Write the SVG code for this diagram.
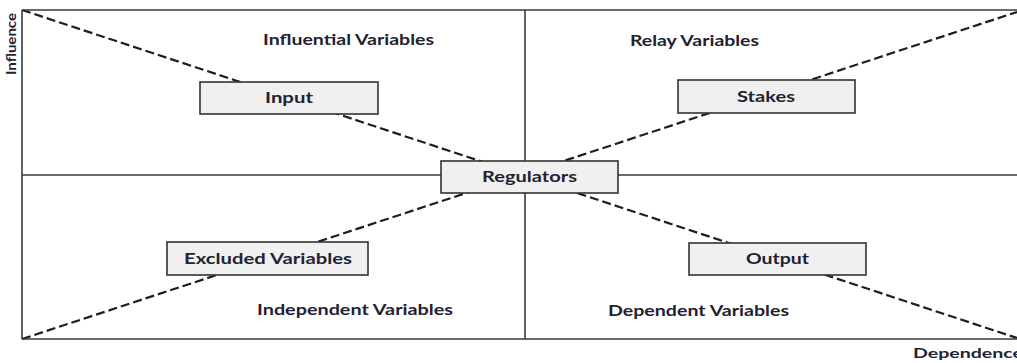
<svg xmlns="http://www.w3.org/2000/svg" width="1017" height="363" viewBox="0 0 1017 363">
<style>
.frame{stroke:#3a3a3a;stroke-width:1.6;fill:none}
.dash{stroke:#1e1e1e;stroke-width:2.2;stroke-dasharray:9 4;fill:none}
.box{fill:#f0f0f0;stroke:#333;stroke-width:1.6}
.lbl{font-family:Lato,"Open Sans","Liberation Sans",sans-serif;font-weight:bold;font-size:15px;fill:#1f2230;text-anchor:middle}
.ax{font-family:Lato,"Open Sans","Liberation Sans",sans-serif;font-weight:bold;font-size:13px;fill:#1f2230}
</style>
<rect width="1017" height="363" fill="#fff"/>
<g id="connectors">
<line class="dash" x1="22" y1="10" x2="1017" y2="338"/>
<line class="dash" x1="22" y1="339" x2="1017" y2="12"/>
</g>
<g id="axes">
<line class="frame" x1="22" y1="10" x2="1017" y2="10"/>
<line class="frame" x1="22" y1="10" x2="22" y2="339"/>
<line class="frame" x1="22" y1="339" x2="1017" y2="339"/>
<line class="frame" x1="525" y1="10" x2="525" y2="339"/>
<line class="frame" x1="22" y1="175" x2="1017" y2="175"/>
<text class="ax" transform="translate(16,44) rotate(-90)" text-anchor="middle" textLength="62" lengthAdjust="spacingAndGlyphs">Influence</text>
<text class="ax" x="913" y="358" textLength="110" lengthAdjust="spacingAndGlyphs">Dependence</text>
</g>
<g id="quadrant-labels">
<text class="lbl" x="348.5" y="45" textLength="171" lengthAdjust="spacingAndGlyphs">Influential Variables</text>
<text class="lbl" x="694.5" y="46" textLength="129" lengthAdjust="spacingAndGlyphs">Relay Variables</text>
<text class="lbl" x="355" y="315" textLength="196" lengthAdjust="spacingAndGlyphs">Independent Variables</text>
<text class="lbl" x="698.5" y="316" textLength="181" lengthAdjust="spacingAndGlyphs">Dependent Variables</text>
</g>
<g id="node-input">
<rect class="box" x="200" y="82" width="178" height="32"/>
<text class="lbl" x="289" y="103" textLength="48" lengthAdjust="spacingAndGlyphs">Input</text>
</g>
<g id="node-stakes">
<rect class="box" x="678" y="80" width="177" height="33"/>
<text class="lbl" x="766" y="102" textLength="58" lengthAdjust="spacingAndGlyphs">Stakes</text>
</g>
<g id="node-regulators">
<rect class="box" x="441" y="161" width="177" height="32"/>
<text class="lbl" x="529.5" y="182" textLength="95" lengthAdjust="spacingAndGlyphs">Regulators</text>
</g>
<g id="node-excluded">
<rect class="box" x="167" y="242" width="201" height="33"/>
<text class="lbl" x="268" y="264" textLength="168" lengthAdjust="spacingAndGlyphs">Excluded Variables</text>
</g>
<g id="node-output">
<rect class="box" x="689" y="243" width="177" height="32"/>
<text class="lbl" x="777.5" y="264" textLength="63" lengthAdjust="spacingAndGlyphs">Output</text>
</g>
</svg>
